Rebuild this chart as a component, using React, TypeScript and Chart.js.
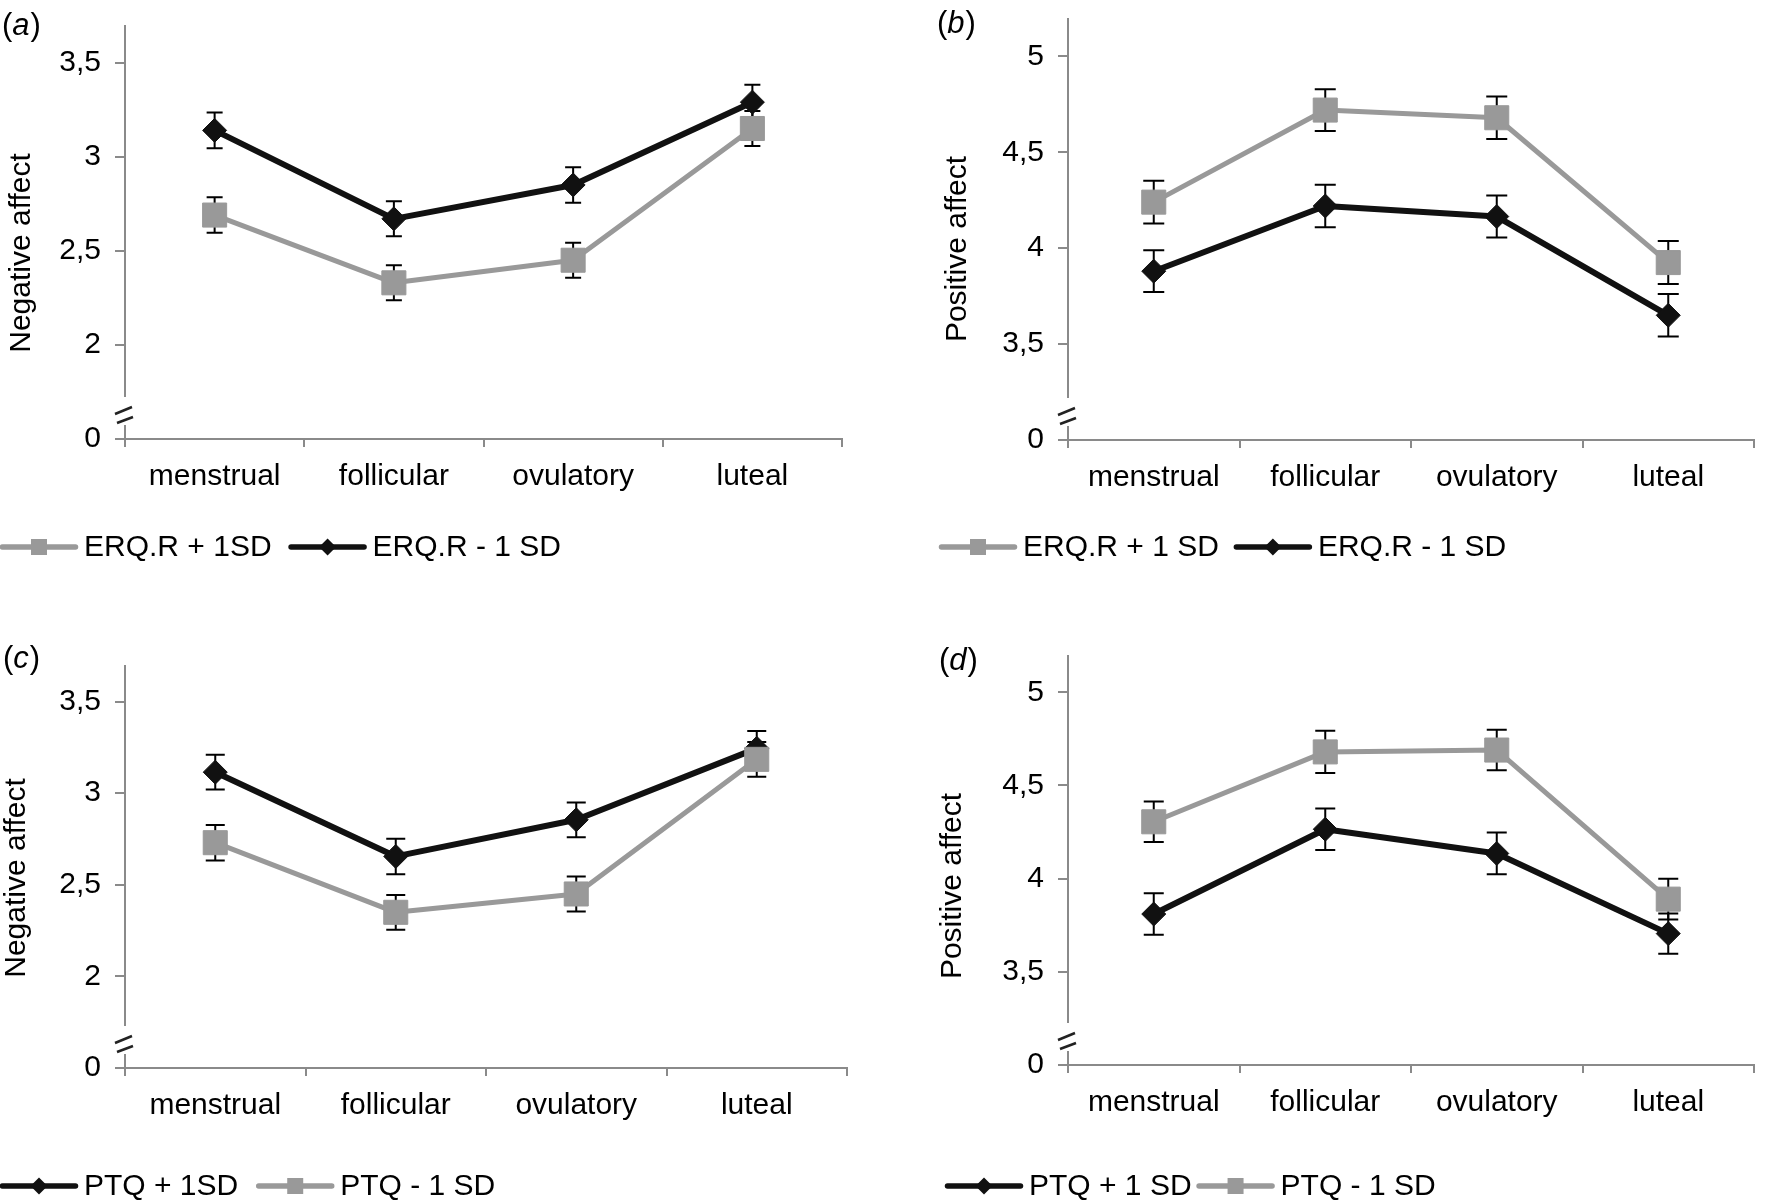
import React, { useEffect, useRef } from 'react';
import { Chart, registerables } from 'chart.js';

Chart.register(...registerables);

// ---------- data ----------
const phases = ['menstrual', 'follicular', 'ovulatory', 'luteal'];

// (a) Negative affect by ERQ reappraisal
const aErqHigh = [2.69, 2.33, 2.45, 3.15];
const aErqHighErr = [0.094, 0.093, 0.093, 0.093];
const aErqLow = [3.14, 2.67, 2.85, 3.29];
const aErqLowErr = [0.095, 0.093, 0.094, 0.092];

// (b) Positive affect by ERQ reappraisal
const bErqHigh = [4.24, 4.72, 4.68, 3.925];
const bErqHighErr = [0.111, 0.109, 0.111, 0.112];
const bErqLow = [3.88, 4.22, 4.165, 3.65];
const bErqLowErr = [0.109, 0.111, 0.109, 0.111];

// (c) Negative affect by PTQ
const cPtqHigh = [3.115, 2.655, 2.855, 3.245];
const cPtqHighErr = [0.095, 0.097, 0.095, 0.095];
const cPtqLow = [2.73, 2.35, 2.45, 3.185];
const cPtqLowErr = [0.097, 0.095, 0.095, 0.095];

// (d) Positive affect by PTQ
const dPtqHigh = [3.81, 4.265, 4.135, 3.705];
const dPtqHighErr = [0.111, 0.112, 0.112, 0.108];
const dPtqLow = [4.305, 4.68, 4.69, 3.89];
const dPtqLowErr = [0.109, 0.113, 0.109, 0.109];

// y axes (lowest value stands for the broken-axis "0")
const negTickValues = [1.5, 2, 2.5, 3, 3.5];
const negTickLabels = ['0', '2', '2,5', '3', '3,5'];
const posTickValues = [3, 3.5, 4, 4.5, 5];
const posTickLabels = ['0', '3,5', '4', '4,5', '5'];

// ---------- styles ----------
const FONT = "'Liberation Sans', Arial, Helvetica, sans-serif";
const AXIS_GRAY = '#8a8a8a';
const GRAY = '#999999';
const BLACK = '#111111';
const CANVAS_W = 886;
const CANVAS_H = 600;

Chart.defaults.font.family = FONT;
Chart.defaults.color = '#000';

type Series = { label: string; data: number[]; err: number[]; style: 'gray' | 'black' };
type Panel = {
  key: string;
  left: number;
  top: number;
  letter: string;
  yTitle: string;
  tickValues: number[];
  tickLabels: string[];
  yMin: number;
  yMax: number;
  series: Series[];
  area: { l: number; r: number; t: number; b: number };
  titleX: number;
  titleY: number;
  labelX: number;
  labelY: number;
  legendX: number;
  legendY: number;
  legendGap: number;
  cap: number;
};

const panels: Panel[] = [
  {
    key: 'a', left: 0, top: 0, letter: 'a', yTitle: 'Negative affect',
    tickValues: negTickValues, tickLabels: negTickLabels, yMin: 1.5, yMax: 3.7,
    series: [
      { label: 'ERQ.R + 1SD', data: aErqHigh, err: aErqHighErr, style: 'gray' },
      { label: 'ERQ.R - 1 SD', data: aErqLow, err: aErqLowErr, style: 'black' },
    ],
    area: { l: 125, r: 842, t: 25, b: 439 },
    titleX: 22, titleY: 253, labelX: 2, labelY: 26,
    legendX: 0, legendY: 547, legendGap: 17, cap: 16,
  },
  {
    key: 'b', left: 886, top: 0, letter: 'b', yTitle: 'Positive affect',
    tickValues: posTickValues, tickLabels: posTickLabels, yMin: 3, yMax: 5.2,
    series: [
      { label: 'ERQ.R + 1 SD', data: bErqHigh, err: bErqHighErr, style: 'gray' },
      { label: 'ERQ.R - 1 SD', data: bErqLow, err: bErqLowErr, style: 'black' },
    ],
    area: { l: 182, r: 884, t: 10, b: 440 },
    titleX: 72, titleY: 249, labelX: 51, labelY: 24,
    legendX: 53, legendY: 547, legendGap: 15, cap: 21,
  },
  {
    key: 'c', left: 0, top: 600, letter: 'c', yTitle: 'Negative affect',
    tickValues: negTickValues, tickLabels: negTickLabels, yMin: 1.5, yMax: 3.7,
    series: [
      { label: 'PTQ + 1SD', data: cPtqHigh, err: cPtqHighErr, style: 'black' },
      { label: 'PTQ - 1 SD', data: cPtqLow, err: cPtqLowErr, style: 'gray' },
    ],
    area: { l: 125, r: 847, t: 65, b: 468 },
    titleX: 17, titleY: 278, labelX: 3, labelY: 59,
    legendX: 0, legendY: 586, legendGap: 18, cap: 19,
  },
  {
    key: 'd', left: 886, top: 600, letter: 'd', yTitle: 'Positive affect',
    tickValues: posTickValues, tickLabels: posTickLabels, yMin: 3, yMax: 5.2,
    series: [
      { label: 'PTQ + 1 SD', data: dPtqHigh, err: dPtqHighErr, style: 'black' },
      { label: 'PTQ - 1 SD', data: dPtqLow, err: dPtqLowErr, style: 'gray' },
    ],
    area: { l: 182, r: 877, t: 55, b: 465 },
    titleX: 67, titleY: 286, labelX: 53, labelY: 61,
    legendX: 59, legendY: 586, legendGap: 5, cap: 20,
  },
];

// ---------- plugins ----------
const errorBarPlugin = {
  id: 'errorBars',
  beforeDatasetsDraw(chart: any, _args: any, opts: any) {
    const { ctx } = chart;
    const y = chart.scales.y;
    const cap = opts.cap || 16;
    ctx.save();
    ctx.strokeStyle = '#000';
    ctx.lineWidth = 2;
    chart.data.datasets.forEach((ds: any, di: number) => {
      const meta = chart.getDatasetMeta(di);
      ds.data.forEach((v: number, i: number) => {
        const e = ds.errors[i];
        const x = meta.data[i].x;
        const y1 = y.getPixelForValue(v + e);
        const y2 = y.getPixelForValue(v - e);
        ctx.beginPath();
        ctx.moveTo(x, y1);
        ctx.lineTo(x, y2);
        ctx.moveTo(x - cap / 2, y1);
        ctx.lineTo(x + cap / 2, y1);
        ctx.moveTo(x - cap / 2, y2);
        ctx.lineTo(x + cap / 2, y2);
        ctx.stroke();
      });
    });
    ctx.restore();
  },
};

function drawMarker(ctx: CanvasRenderingContext2D, style: string, x: number, y: number, size: number) {
  ctx.fillStyle = style === 'gray' ? GRAY : BLACK;
  ctx.beginPath();
  if (style === 'gray') {
    ctx.rect(x - size / 2, y - size / 2, size, size);
  } else {
    ctx.moveTo(x, y - size / 2);
    ctx.lineTo(x + size / 2, y);
    ctx.lineTo(x, y + size / 2);
    ctx.lineTo(x - size / 2, y);
    ctx.closePath();
  }
  ctx.fill();
}

const decorPlugin = {
  id: 'decor',
  afterDraw(chart: any, _args: any, p: any) {
    const { ctx } = chart;
    const { left, top, bottom } = chart.chartArea;
    ctx.save();

    // broken y axis
    ctx.strokeStyle = AXIS_GRAY;
    ctx.lineWidth = 2;
    ctx.beginPath();
    ctx.moveTo(left, top);
    ctx.lineTo(left, bottom - 42);
    ctx.moveTo(left, bottom - 14);
    ctx.lineTo(left, bottom);
    ctx.stroke();
    ctx.strokeStyle = '#222';
    ctx.lineWidth = 2.5;
    ctx.beginPath();
    ctx.moveTo(left - 10, bottom - 25);
    ctx.lineTo(left + 7, bottom - 32);
    ctx.moveTo(left - 8, bottom - 16);
    ctx.lineTo(left + 8, bottom - 22);
    ctx.stroke();

    // panel letter
    ctx.fillStyle = '#000';
    ctx.textBaseline = 'middle';
    ctx.textAlign = 'left';
    let lx = p.labelX;
    ctx.font = `31px ${FONT}`;
    ctx.fillText('(', lx, p.labelY);
    lx += ctx.measureText('(').width;
    ctx.font = `italic 31px ${FONT}`;
    ctx.fillText(p.letter, lx, p.labelY);
    lx += ctx.measureText(p.letter).width + 1;
    ctx.font = `31px ${FONT}`;
    ctx.fillText(')', lx, p.labelY);

    // y title
    ctx.save();
    ctx.translate(p.titleX, p.titleY);
    ctx.rotate(-Math.PI / 2);
    ctx.textAlign = 'center';
    ctx.font = `30px ${FONT}`;
    ctx.fillText(p.yTitle, 0, 0);
    ctx.restore();

    // legend
    let x = p.legendX;
    const y = p.legendY;
    ctx.font = `30px ${FONT}`;
    ctx.textAlign = 'left';
    ctx.textBaseline = 'middle';
    p.series.forEach((s: Series) => {
      const color = s.style === 'gray' ? GRAY : BLACK;
      ctx.strokeStyle = color;
      ctx.lineWidth = 5.5;
      ctx.lineCap = 'round';
      ctx.beginPath();
      ctx.moveTo(x + 2.5, y);
      ctx.lineTo(x + 75.5, y);
      ctx.stroke();
      drawMarker(ctx, s.style, x + 39, y, s.style === 'gray' ? 16 : 17);
      ctx.fillStyle = '#000';
      ctx.fillText(s.label, x + 84, y + 1);
      x += 84 + ctx.measureText(s.label).width + p.legendGap;
    });
    ctx.restore();
  },
};

// ---------- components ----------
function PanelChart({ p }: { p: Panel }) {
  const ref = useRef<HTMLCanvasElement | null>(null);

  useEffect(() => {
    if (!ref.current) return;
    const datasets = p.series.map((s, i) => {
      const isGray = s.style === 'gray';
      const color = isGray ? GRAY : BLACK;
      return {
        label: s.label,
        data: s.data,
        errors: s.err,
        borderColor: color,
        backgroundColor: color,
        borderWidth: isGray ? 5 : 6,
        borderJoinStyle: 'round',
        borderCapStyle: 'round',
        pointStyle: isGray ? 'rect' : 'rectRot',
        pointRadius: isGray ? 17 : 12,
        pointHoverRadius: isGray ? 17 : 12,
        pointBorderWidth: 1,
        pointBorderColor: color,
        pointBackgroundColor: color,
        tension: 0,
        order: i === 1 ? 0 : 1,
      };
    });

    const chart = new Chart(ref.current, {
      type: 'line',
      data: { labels: phases, datasets: datasets as any },
      plugins: [errorBarPlugin, decorPlugin],
      options: {
        responsive: false,
        animation: false,
        events: [],
        layout: {
          padding: { left: 0, right: CANVAS_W - p.area.r, top: p.area.t, bottom: 0 },
        },
        plugins: {
          legend: { display: false },
          tooltip: { enabled: false },
          errorBars: { cap: p.cap },
          decor: p,
        } as any,
        scales: {
          x: {
            type: 'category',
            offset: true,
            afterFit: (scale: any) => {
              scale.height = CANVAS_H - p.area.b;
              scale.paddingLeft = 0;
              scale.paddingRight = 0;
            },
            grid: {
              offset: true,
              drawOnChartArea: false,
              drawTicks: true,
              tickLength: 8,
              color: AXIS_GRAY,
              lineWidth: 2,
            },
            border: { display: true, color: AXIS_GRAY, width: 2 },
            ticks: {
              font: { size: 30, family: FONT },
              color: '#000',
              padding: 12,
              maxRotation: 0,
              autoSkip: false,
            },
          },
          y: {
            type: 'linear',
            min: p.yMin,
            max: p.yMax,
            afterBuildTicks: (scale: any) => {
              scale.ticks = p.tickValues.map((v) => ({ value: v }));
            },
            afterFit: (scale: any) => {
              scale.width = p.area.l;
              scale.paddingTop = 0;
              scale.paddingBottom = 0;
            },
            grid: {
              drawOnChartArea: false,
              drawTicks: true,
              tickLength: 10,
              color: AXIS_GRAY,
              lineWidth: 2,
            },
            border: { display: false },
            ticks: {
              font: { size: 30, family: FONT },
              color: '#000',
              padding: 14,
              callback: (value: any) => {
                const idx = p.tickValues.indexOf(Number(value));
                return idx >= 0 ? p.tickLabels[idx] : '';
              },
            },
          },
        },
      } as any,
    });

    return () => chart.destroy();
  }, [p]);

  return (
    <canvas
      ref={ref}
      width={CANVAS_W}
      height={CANVAS_H}
      style={{ position: 'absolute', left: p.left, top: p.top, width: CANVAS_W, height: CANVAS_H }}
    />
  );
}

export default function App() {
  return (
    <div
      style={{
        position: 'absolute',
        left: 0,
        top: 0,
        width: 1772,
        height: 1200,
        background: '#fff',
        overflow: 'hidden',
      }}
    >
      {panels.map((p) => (
        <PanelChart key={p.key} p={p} />
      ))}
    </div>
  );
}
